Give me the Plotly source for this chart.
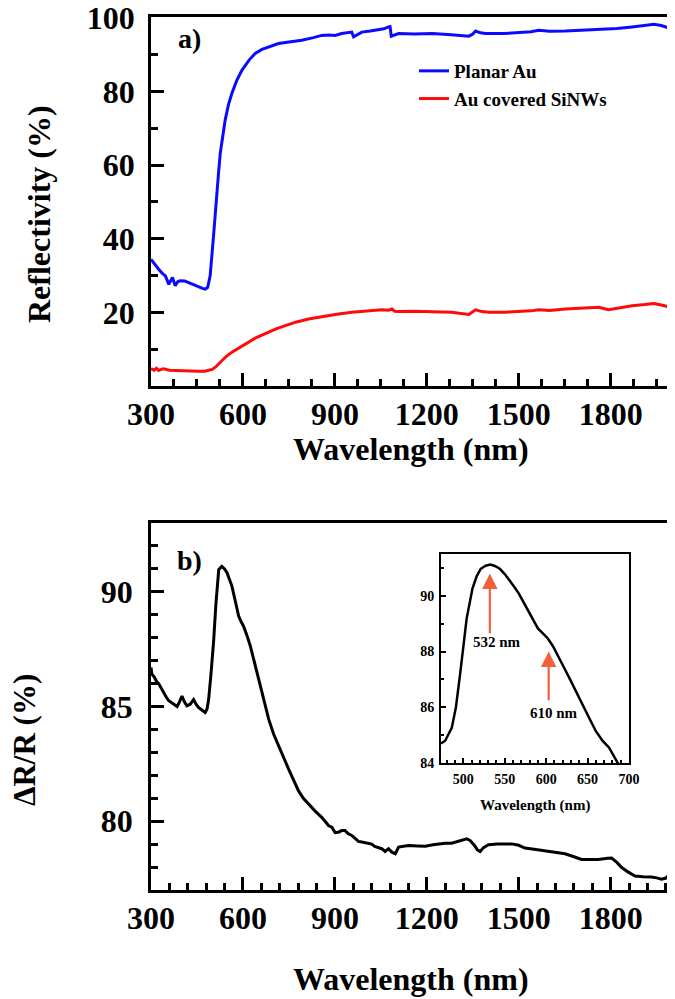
import plotly.graph_objects as go

W, H = 675, 999
OFF = 6  # page body offset in the browser

# ---------------- data ----------------
wl_planar = [300, 312, 325, 337, 347, 358, 365, 370, 379, 387, 395, 410, 423, 440, 455, 468, 477, 485,
             493, 499, 504, 510, 515, 521, 526, 534, 542, 553, 564, 580, 597, 620, 640, 662, 684, 700,
             716, 750, 792, 830, 857, 880, 901, 922, 945, 955, 961, 975, 988, 1015, 1043, 1060, 1075,
             1080, 1084, 1095, 1108, 1160, 1217, 1280, 1337, 1350, 1359, 1375, 1391, 1450, 1500, 1540,
             1565, 1600, 1652, 1710, 1761, 1820, 1870, 1910, 1941, 1965, 1979, 1995, 2000]
r_planar = [34.4, 33.0, 31.7, 30.6, 29.9, 27.6, 28.5, 29.5, 27.2, 28.3, 28.6, 28.5, 28.1, 27.5, 26.8, 26.5,
            26.3, 26.8, 29.9, 35.0, 40.7, 47.0, 53.3, 58.5, 63.2, 68.0, 72.2, 76.5, 79.5, 83.0, 85.8, 88.5,
            90.3, 91.4, 92.1, 92.6, 93.0, 93.4, 93.9, 94.6, 95.2, 95.3, 95.2, 95.7, 95.9, 96.1, 94.8, 95.6,
            96.1, 96.4, 96.8, 97.0, 97.5, 97.6, 95.0, 95.4, 95.7, 95.6, 95.7, 95.4, 95.0, 95.6, 96.4, 95.9,
            95.7, 95.7, 95.9, 96.2, 96.6, 96.3, 96.4, 96.6, 96.8, 97.1, 97.5, 97.8, 98.2, 97.9, 97.5, 97.0,
            96.9]

wl_sinw = [300, 310, 318, 325, 333, 341, 360, 379, 400, 430, 455, 475, 488, 500, 510, 530, 545, 564, 585,
           608, 640, 684, 710, 738, 775, 814, 860, 901, 955, 1000, 1053, 1075, 1086, 1095, 1108, 1160, 1217,
           1280, 1337, 1350, 1359, 1380, 1402, 1450, 1500, 1540, 1565, 1600, 1652, 1710, 1761, 1793, 1830,
           1870, 1910, 1941, 1965, 1979, 1995, 2000]
r_sinw = [4.7, 4.3, 4.8, 4.2, 4.5, 4.7, 4.3, 4.2, 4.1, 4.1, 4.0, 4.0, 4.2, 4.5, 5.1, 6.8, 8.0, 9.2, 10.3,
          11.4, 13.0, 14.6, 15.6, 16.4, 17.4, 18.2, 18.9, 19.4, 20.0, 20.3, 20.7, 20.6, 20.9, 20.3, 20.2,
          20.3, 20.2, 20.0, 19.4, 20.2, 20.7, 20.2, 20.0, 20.0, 20.2, 20.4, 20.7, 20.5, 20.9, 21.1, 21.4,
          20.7, 21.3, 21.8, 22.1, 22.4, 22.0, 21.8, 21.4, 21.3]

wl_dr = [300, 303, 310, 318, 325, 333, 341, 350, 358, 372, 385, 393, 401, 409, 417, 428, 439, 447, 455, 466,
         477, 483, 488, 495, 504, 512, 521, 531, 540, 548, 556, 564, 575, 586, 594, 602, 613, 624, 638, 651,
         668, 684, 700, 716, 732, 749, 765, 781, 797, 814, 835, 857, 880, 890, 901, 912, 922, 933, 944, 955,
         966, 977, 988, 1000, 1010, 1020, 1030, 1042, 1053, 1064, 1075, 1086, 1097, 1108, 1125, 1140, 1170,
         1195, 1220, 1238, 1260, 1281, 1305, 1330, 1341, 1355, 1365, 1374, 1385, 1401, 1430, 1477, 1500,
         1520, 1550, 1585, 1620, 1651, 1680, 1705, 1730, 1759, 1790, 1803, 1820, 1835, 1855, 1879, 1905,
         1933, 1950, 1966, 1980, 1988, 1998]
dr = [86.7, 86.4, 86.3, 86.1, 86.0, 85.8, 85.6, 85.4, 85.25, 85.1, 85.0, 85.2, 85.46, 85.2, 85.03, 85.1,
      85.3, 85.1, 84.96, 84.85, 84.74, 84.9, 85.3, 86.3, 87.78, 89.5, 90.97, 91.11, 91.0, 90.83, 90.5,
      90.25, 89.6, 88.94, 88.7, 88.5, 88.1, 87.64, 86.9, 86.19, 85.3, 84.45, 83.8, 83.29, 82.75, 82.27,
      81.8, 81.33, 81.0, 80.75, 80.45, 80.17, 79.8, 79.74, 79.5, 79.52, 79.59, 79.59, 79.45, 79.38, 79.25,
      79.12, 79.09, 79.05, 79.01, 79.0, 78.9, 78.83, 78.8, 78.68, 78.8, 78.65, 78.58, 78.87, 78.92, 78.94,
      78.92, 78.91, 78.97, 79.01, 79.04, 79.04, 79.12, 79.23, 79.16, 78.95, 78.75, 78.68, 78.85, 78.97,
      79.0, 79.01, 78.95, 78.83, 78.78, 78.72, 78.65, 78.58, 78.45, 78.33, 78.33, 78.33, 78.38, 78.39,
      78.2, 77.99, 77.8, 77.61, 77.58, 77.57, 77.53, 77.47, 77.52, 77.63, 77.78]

wl_inset = [473, 478, 486, 491, 496, 500, 504, 508, 511, 516, 521, 527, 532.5, 538, 544, 550, 556, 562, 567,
            574, 581, 590, 596, 602, 608, 614, 622, 630, 638, 645, 653, 660, 668, 676, 686, 694]
dr_inset = [84.7, 84.8, 85.26, 86.0, 87.17, 88.2, 89.19, 89.8, 90.26, 90.7, 90.97, 91.08, 91.12, 91.07,
            90.97, 90.78, 90.56, 90.3, 90.08, 89.7, 89.31, 88.83, 88.65, 88.47, 88.2, 87.88, 87.4, 86.93,
            86.45, 85.97, 85.55, 85.14, 84.8, 84.55, 84.0, 83.6]

arrow_labels = ["532 nm", "610 nm"]
arrow_x = [532, 603]
arrow_head = [90.8, 88.0]
arrow_tail = [88.6, 86.2]
arrow_label_x = [541, 609]
arrow_label_y = [88.35, 85.8]

x_ticks = [300, 600, 900, 1200, 1500, 1800]
top_y_ticks = [20, 40, 60, 80, 100]
bot_y_ticks = [80, 85, 90]
inset_x_ticks = [500, 550, 600, 650, 700]
inset_y_ticks = [84, 86, 88, 90]

# ---------------- layout helpers ----------------
FONT = "Liberation Serif, Times New Roman, serif"


def fx(px):
    return (px - OFF) / W


def fy(py):
    return 1 - (py - OFF) / H


def px_x(a, b):
    return [fx(a), fx(b)]


def px_y(top, bottom):
    return [fy(bottom), fy(top)]


def axis(domain, rng, tickvals, minor_dtick, minor_tick0, fsize, tlen, mlen, lw, standoff, anchor):
    return dict(domain=domain, range=rng, tickvals=tickvals, ticks="inside", ticklen=tlen,
                tickwidth=lw, tickcolor="black", showline=True, linecolor="black", linewidth=lw,
                mirror=True, showgrid=False, zeroline=False, anchor=anchor, automargin=False,
                tickfont=dict(family=FONT, size=fsize, color="black", weight="bold"),
                ticklabelstandoff=standoff, ticklabeloverflow="allow",
                minor=dict(ticks="inside", dtick=minor_dtick, tick0=minor_tick0, ticklen=mlen,
                           tickwidth=lw, tickcolor="black", showgrid=False))


fig = go.Figure()

fig.add_trace(go.Scatter(x=wl_planar, y=r_planar, mode="lines", name="Planar Au",
                         line=dict(color="#0a0aff", width=3), xaxis="x", yaxis="y"))
fig.add_trace(go.Scatter(x=wl_sinw, y=r_sinw, mode="lines", name="Au covered SiNWs",
                         line=dict(color="#ff0a0a", width=3), xaxis="x", yaxis="y"))
fig.add_trace(go.Scatter(x=wl_dr, y=dr, mode="lines", showlegend=False,
                         line=dict(color="black", width=3), xaxis="x2", yaxis="y2"))
fig.add_trace(go.Scatter(x=wl_inset, y=dr_inset, mode="lines", showlegend=False,
                         line=dict(color="black", width=2.5), xaxis="x3", yaxis="y3"))

layout = dict(
    width=W, height=H, margin=dict(l=0, r=0, t=0, b=0, autoexpand=False),
    paper_bgcolor="white", plot_bgcolor="white",
    font=dict(family=FONT, color="black", weight="bold"),
    xaxis=axis(px_x(149, 670), [300, 2000], x_ticks, 75, 300, 32, 13, 7, 2.5, -2, "y"),
    yaxis=axis(px_y(15, 384), [0, 100.2], top_y_ticks, 10, 0, 32, 13, 7, 2.5, 7, "x"),
    xaxis2=axis(px_x(149, 670), [300, 2000], x_ticks, 60, 300, 32, 13, 7, 2.5, -2, "y2"),
    yaxis2=axis(px_y(521, 888), [77, 93], bot_y_ticks, 1, 77, 32, 13, 7, 2.5, 9, "x2"),
    xaxis3=axis(px_x(439, 627), [473, 700], inset_x_ticks, 10, 500, 14, 5, 3, 2, 2, "y3"),
    yaxis3=axis(px_y(552, 761), [84, 91.5], inset_y_ticks, 1, 84, 14, 5, 3, 2, 2, "x3"),
    legend=dict(x=fx(412), y=fy(50), xanchor="left", yanchor="top",
                bgcolor="rgba(0,0,0,0)", borderwidth=0,
                font=dict(family=FONT, size=19, color="black", weight="bold"),
                tracegroupgap=0),
    showlegend=True,
)
fig.update_layout(**layout)

ann = []


def text_ann(text, x, y, size, angle=0):
    return dict(text=text, x=fx(x), y=fy(y), xref="paper", yref="paper", showarrow=False,
                xanchor="center", yanchor="middle", textangle=angle,
                font=dict(family=FONT, size=size, color="black", weight="bold"))


ann.append(text_ann("Wavelength (nm)", 409, 447, 32))
ann.append(text_ann("Wavelength (nm)", 409, 977, 32))
ann.append(text_ann("Reflectivity (%)", 37, 212, 32, -90))
ann.append(text_ann("ΔR/R (%)", 22, 738, 31, -90))
ann.append(text_ann("a)", 187, 37, 28))
ann.append(text_ann("b)", 187, 558, 28))
ann.append(text_ann("Wavelength (nm)", 533, 803, 15))

for lab, xa, yh, yt, lx, ly in zip(arrow_labels, arrow_x, arrow_head, arrow_tail, arrow_label_x, arrow_label_y):
    ann.append(dict(x=xa, y=yh, ax=xa, ay=yt, xref="x3", yref="y3", axref="x3", ayref="y3",
                    showarrow=True, arrowhead=2, arrowsize=1.4, arrowwidth=2.2, arrowcolor="#f0603c",
                    text=""))
    ann.append(dict(text=lab, x=lx, y=ly, xref="x3", yref="y3", showarrow=False,
                    xanchor="center", yanchor="middle",
                    font=dict(family=FONT, size=15, color="black", weight="bold")))

fig.update_layout(annotations=ann)
fig.write_html("out.html")
